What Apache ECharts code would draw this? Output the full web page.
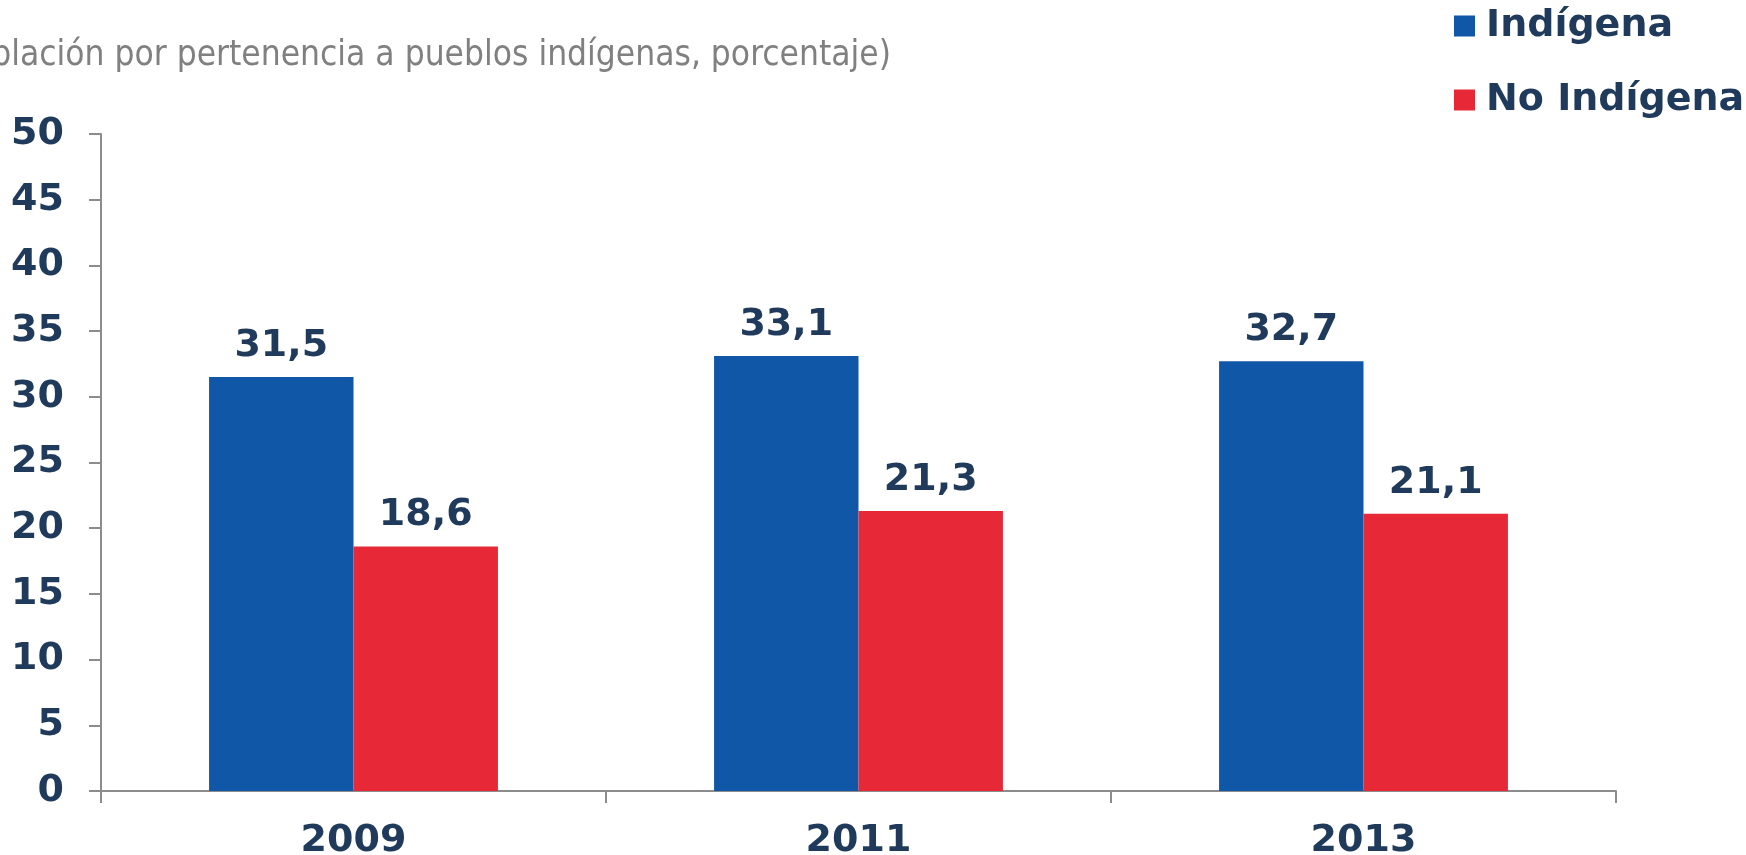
<!DOCTYPE html>
<html>
<head>
<meta charset="utf-8">
<script src="https://cdn.jsdelivr.net/npm/echarts@6/dist/echarts.min.js"></script>
<style>
html,body{margin:0;padding:0;background:#fff;}
#chart{width:1746px;height:855px;}
</style>
</head>
<body>
<div id="chart"></div>
<script>
const categories = ['2009', '2011', '2013'];
const indigena = [31.5, 33.1, 32.7];
const noIndigena = [18.6, 21.3, 21.1];
const seriesNames = ['Indígena', 'No Indígena'];
const titleText = '(Población por pertenencia a pueblos indígenas, porcentaje)';

const navy = '#1f3a5a';
const axisGray = '#8c8c8c';
const boldFont = 'DejaVu Sans';

const chart = echarts.init(document.getElementById('chart'));
const labelOpt = {
  show: true,
  position: 'top',
  distance: 12,
  color: navy,
  fontFamily: boldFont,
  fontWeight: 'bold',
  fontSize: 38,
  formatter: p => String(p.value).replace('.', ',')
};
chart.setOption({
  animation: false,
  backgroundColor: '#ffffff',
  title: {
    text: titleText,
    right: 850,
    top: 33,
    textStyle: {
      color: '#808080',
      fontFamily: 'DejaVu Sans Condensed',
      fontWeight: 'normal',
      fontSize: 35
    }
  },
  legend: {
    orient: 'vertical',
    left: 1449,
    top: 2,
    itemWidth: 21,
    itemHeight: 21,
    itemGap: 36,
    icon: 'rect',
    textStyle: {
      color: navy,
      fontFamily: boldFont,
      fontWeight: 'bold',
      fontSize: 38,
      padding: [0, 0, 0, 6]
    },
    data: seriesNames
  },
  grid: { left: 101, right: 130, top: 134, bottom: 64, containLabel: false, outerBoundsMode: 'none' },
  xAxis: {
    type: 'category',
    data: categories,
    axisLine: { lineStyle: { color: axisGray, width: 2 } },
    axisTick: { show: true, length: 12, lineStyle: { color: axisGray, width: 2 } },
    axisLabel: {
      color: navy,
      fontFamily: boldFont,
      fontWeight: 'bold',
      fontSize: 38,
      margin: 31
    }
  },
  yAxis: {
    type: 'value',
    min: 0,
    max: 50,
    interval: 5,
    axisLine: { show: true, lineStyle: { color: axisGray, width: 2 } },
    axisTick: { show: true, length: 12, lineStyle: { color: axisGray, width: 2 } },
    splitLine: { show: false },
    axisLabel: {
      color: navy,
      fontFamily: boldFont,
      fontWeight: 'bold',
      fontSize: 38,
      margin: 37
    }
  },
  series: [
    {
      name: seriesNames[0],
      type: 'bar',
      data: indigena,
      barWidth: '28.6%',
      barGap: '0%',
      itemStyle: { color: '#1057a8' },
      label: labelOpt
    },
    {
      name: seriesNames[1],
      type: 'bar',
      data: noIndigena,
      barWidth: '28.6%',
      barGap: '0%',
      itemStyle: { color: '#e72837' },
      label: labelOpt
    }
  ]
});
</script>
</body>
</html>
